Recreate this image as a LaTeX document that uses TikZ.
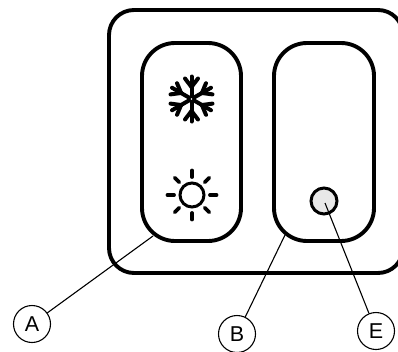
\documentclass[tikz,border=0pt]{standalone}
\usepackage{fontspec}
\setmainfont{Liberation Sans}
\tikzset{
  shell/.style={draw=black,line width=3.9pt,fill=none},
  callout/.style={circle,draw=black,line width=1.1pt,fill=white,minimum size=37pt,inner sep=0pt,font=\fontsize{21.5}{22}\selectfont},
  leader/.style={draw=black,line width=1.1pt},
  ray/.style={draw=black,line width=3.8pt,line cap=round},
  flake/.style={draw=black,line width=4pt,line cap=round},
}
\begin{document}
\begin{tikzpicture}[x=1pt,y=-1pt]
\useasboundingbox (0,0) rectangle (398,351);
\clip (0,0) rectangle (398,351);
% housing and panels
\draw[shell,rounded corners=25pt] (109,10) rectangle (403,273);
\draw[shell,rounded corners=33pt] (142,43) rectangle (241,241);
\draw[shell,rounded corners=33pt] (274,43) rectangle (374,241);
% snowflake
\begin{scope}[shift={(191.5,99)}]
\foreach \a in {30,90,150,210,270,330}{
  \begin{scope}[rotate=\a]
    \draw[flake] (0,0) -- (22.5,0);
    \draw[flake] (12,0) -- (20.5,-6.5);
    \draw[flake] (12,0) -- (20.5,6.5);
  \end{scope}
}
\fill[white] (0,0) circle (0.8);
\end{scope}
% sun
\begin{scope}[shift={(192,195)}]
\draw[black,line width=3pt] (0,0) circle (12);
\foreach \a in {0,45,...,315}{
  \draw[ray,rotate=\a] (18,0) -- (24.5,0);
}
\end{scope}
% button
\node[circle,draw=black,line width=3pt,fill=black!9,minimum size=26pt,inner sep=0pt] (btn) at (324,201) {};
\coordinate (btnc) at (325,203);
\coordinate (pa) at (153,236);
\coordinate (pb) at (285,235);
% callouts
\node[callout] (A) at (32,324) {A};
\node[callout] (B) at (237,334) {B};
\node[callout] (E) at (376,331) {E};
\draw[leader] (A) -- (pa);
\draw[leader] (B) -- (pb);
\draw[leader] (E) -- (btnc);
\end{tikzpicture}
\end{document}
